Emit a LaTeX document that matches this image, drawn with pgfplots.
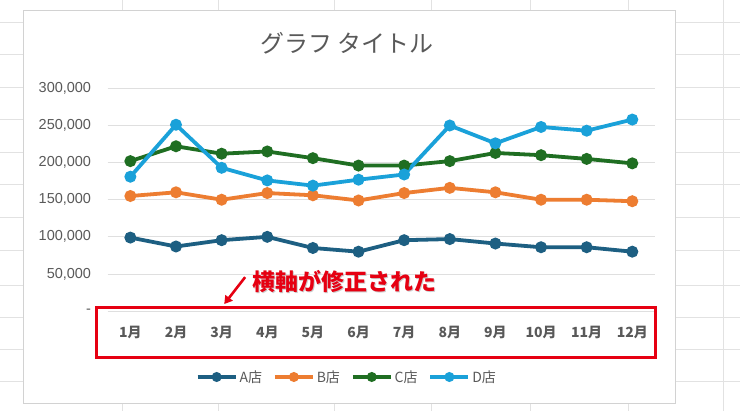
\documentclass[border=0pt]{standalone}
\usepackage{pgfplots}
\pgfplotsset{compat=1.18}
\usepackage{fontspec}
\setmainfont{Noto Sans CJK JP}
\newfontfamily\arial{Liberation Sans}
\usetikzlibrary{arrows.meta}

\definecolor{cA}{HTML}{1D5F82}
\definecolor{cB}{HTML}{ED7D31}
\definecolor{cC}{HTML}{1F6E22}
\definecolor{cD}{HTML}{1AA1D9}
\definecolor{gtext}{HTML}{595959}
\definecolor{sheet}{HTML}{E2E2E2}
\definecolor{annot}{HTML}{E60012}

\begin{document}
\begin{tikzpicture}[x=1pt,y=1pt]
% sheet background
\fill[white] (0pt,0pt) rectangle (740pt,411pt);
\foreach \x in {122,218,334,432,531,629,724}
  \draw[sheet, line width=1pt] (\x pt,0pt) -- (\x pt,411pt);
\foreach \y in {22,54,87,119,152,184,217,250,285,317,349,382}
  \draw[sheet, line width=1pt] (0pt,411pt-\y pt) -- (740pt,411pt-\y pt);
% chart area
\draw[fill=white, draw=gray!35, line width=0.8pt] (22.6pt,401pt) rectangle (676pt,8pt);
\node[text=gtext, font=\fontsize{24}{28}\selectfont] at (347pt,368pt) {グラフ タイトル};

\begin{axis}[
  at={(107.2pt,100pt)}, anchor=south west,
  scale only axis, width=548.3pt, height=223pt,
  xmin=0.5, xmax=12.5, ymin=0, ymax=300000,
  xtick={1,...,12},
  xticklabels={1月,2月,3月,4月,5月,6月,7月,8月,9月,10月,11月,12月},
  ytick={0,50000,100000,150000,200000,250000,300000},
  yticklabels={{-},{50,000},{100,000},{150,000},{200,000},{250,000},{300,000}},
  ymajorgrids, grid style={gray!25, line width=0.8pt},
  axis line style={draw=none}, tick style={draw=none}, major tick length=0pt,
  yticklabel style={text=gtext, font=\arial\fontsize{14.5}{17}\selectfont, xshift=-13pt},
  xticklabel style={text=gtext, font=\bfseries\fontsize{14}{16}\selectfont, yshift=-12pt},
  scaled y ticks=false,
  clip=false,
  legend columns=4,
  legend style={at={(0.437,-0.296)}, anchor=center, draw=none, fill=none,
    font=\fontsize{14}{16}\selectfont, text=gtext,
    /tikz/every even column/.append style={column sep=9pt},
    inner sep=0pt},
  legend image code/.code={\draw[mark repeat=2, mark phase=2, mark size=3pt] plot coordinates {(0pt,0pt) (19pt,0pt) (38pt,0pt)};},
  every axis plot/.append style={line width=3.8pt, mark=*, mark size=4pt},
]
\addplot[cA, mark options={fill=cA}] coordinates {
  (1,99000) (2,87000) (3,95500) (4,100000) (5,85000) (6,80000)
  (7,95500) (8,97000) (9,91000) (10,86000) (11,86000) (12,80000)};
\addplot[cB, mark options={fill=cB}] coordinates {
  (1,155000) (2,160000) (3,150000) (4,159000) (5,156000) (6,149000)
  (7,159000) (8,166000) (9,160000) (10,150000) (11,150000) (12,148000)};
\addplot[cC, mark options={fill=cC}] coordinates {
  (1,202000) (2,222000) (3,212000) (4,215000) (5,206000) (6,196000)
  (7,196000) (8,202000) (9,213000) (10,210000) (11,205000) (12,199000)};
\addplot[cD, mark options={fill=cD}] coordinates {
  (1,181000) (2,251000) (3,193000) (4,176000) (5,169000) (6,177000)
  (7,184000) (8,250000) (9,226000) (10,248000) (11,243000) (12,258000)};
\legend{A店,B店,C店,D店}
\end{axis}

% annotation
\draw[annot, line width=3pt] (96pt,104pt) rectangle (656pt,54pt);
\draw[annot, line width=2.6pt, -{Triangle[length=8pt,width=9pt]}] (245pt,134pt) -- (224pt,107pt);
\node[text=gray!40, font=\bfseries\fontsize{23}{26}\selectfont, anchor=west] at (250.3pt,128.8pt) {横軸が修正された};
\node[text=annot, font=\bfseries\fontsize{23}{26}\selectfont, anchor=west] at (249pt,130pt) {横軸が修正された};
\end{tikzpicture}
\end{document}
